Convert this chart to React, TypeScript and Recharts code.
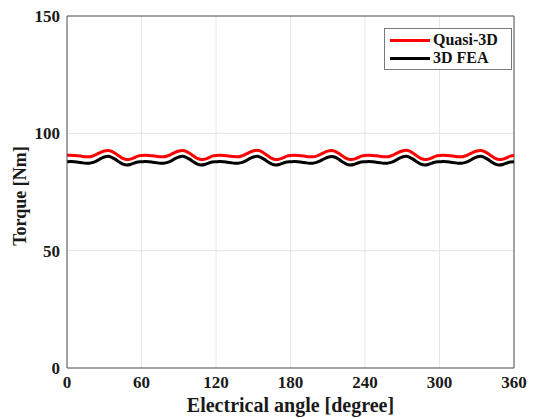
import React from "react";
import {
  LineChart,
  Line,
  XAxis,
  YAxis,
  CartesianGrid,
  ReferenceLine,
} from "recharts";

const angles = [
  0, 3, 6, 9, 12, 15, 18, 21, 24, 27, 30, 33, 36, 39, 42, 45, 48, 51, 54, 57,
  60, 63, 66, 69, 72, 75, 78, 81, 84, 87, 90, 93, 96, 99, 102, 105, 108, 111, 114, 117,
  120, 123, 126, 129, 132, 135, 138, 141, 144, 147, 150, 153, 156, 159, 162, 165, 168, 171, 174, 177,
  180, 183, 186, 189, 192, 195, 198, 201, 204, 207, 210, 213, 216, 219, 222, 225, 228, 231, 234, 237,
  240, 243, 246, 249, 252, 255, 258, 261, 264, 267, 270, 273, 276, 279, 282, 285, 288, 291, 294, 297,
  300, 303, 306, 309, 312, 315, 318, 321, 324, 327, 330, 333, 336, 339, 342, 345, 348, 351, 354, 357,
  360,
];

const quasi3D = [
  90.7, 90.7, 90.6, 90.4, 90.2, 90.0, 90.0, 90.4, 91.1, 91.9, 92.5, 92.7, 92.3, 91.4, 90.3, 89.3, 88.8, 89.0, 89.6, 90.3,
  90.6, 90.7, 90.6, 90.4, 90.2, 90.0, 90.0, 90.4, 91.1, 91.9, 92.5, 92.7, 92.3, 91.4, 90.3, 89.3, 88.8, 89.0, 89.6, 90.3,
  90.6, 90.7, 90.6, 90.4, 90.2, 90.1, 90.0, 90.4, 91.1, 91.9, 92.5, 92.8, 92.4, 91.4, 90.3, 89.3, 88.8, 89.0, 89.6, 90.3,
  90.6, 90.7, 90.6, 90.4, 90.2, 90.0, 90.0, 90.3, 91.0, 91.8, 92.4, 92.7, 92.3, 91.4, 90.3, 89.3, 88.8, 89.0, 89.6, 90.3,
  90.6, 90.7, 90.6, 90.4, 90.2, 90.0, 90.0, 90.4, 91.1, 91.9, 92.5, 92.8, 92.4, 91.4, 90.3, 89.3, 88.8, 89.0, 89.6, 90.3,
  90.6, 90.7, 90.6, 90.4, 90.2, 90.0, 90.0, 90.4, 91.1, 91.9, 92.5, 92.7, 92.3, 91.4, 90.3, 89.3, 88.8, 89.0, 89.6, 90.3,
  90.6,
];

const fea3D = [
  87.9, 88.0, 87.9, 87.7, 87.5, 87.3, 87.3, 87.6, 88.3, 89.2, 89.9, 90.2, 89.8, 88.9, 87.8, 86.9, 86.5, 86.7, 87.3, 87.8,
  87.9, 88.0, 87.9, 87.7, 87.5, 87.3, 87.3, 87.6, 88.3, 89.2, 89.9, 90.2, 89.8, 88.9, 87.8, 86.9, 86.5, 86.7, 87.3, 87.8,
  87.9, 88.0, 87.9, 87.7, 87.5, 87.3, 87.3, 87.6, 88.3, 89.2, 89.9, 90.2, 89.8, 88.9, 87.8, 86.9, 86.5, 86.7, 87.3, 87.8,
  87.9, 88.0, 87.9, 87.7, 87.5, 87.3, 87.3, 87.6, 88.3, 89.1, 89.8, 90.1, 89.8, 88.9, 87.8, 86.9, 86.5, 86.7, 87.3, 87.8,
  87.9, 88.0, 87.9, 87.7, 87.5, 87.3, 87.3, 87.6, 88.3, 89.2, 89.9, 90.2, 89.8, 88.9, 87.8, 86.9, 86.5, 86.7, 87.3, 87.8,
  87.9, 88.0, 87.9, 87.7, 87.5, 87.3, 87.3, 87.6, 88.3, 89.2, 89.9, 90.2, 89.8, 88.9, 87.8, 86.9, 86.5, 86.7, 87.3, 87.8,
  87.9,
];

const xTicks = [0, 60, 120, 180, 240, 300, 360];
const yTicks = [0, 50, 100, 150];

const seriesNames = ["Quasi-3D", "3D FEA"];
const seriesColors = ["#ff0000", "#000000"];

const data = angles.map((a, i) => ({ angle: a, q: quasi3D[i], f: fea3D[i] }));

const FONT = '"Liberation Serif", "Times New Roman", serif';

const LegendBox = () => (
  <div
    style={{
      position: "absolute",
      left: 384,
      top: 28,
      width: 126,
      height: 40,
      border: "1px solid #7a7a7a",
      background: "#fff",
      fontFamily: FONT,
      fontWeight: "bold",
      fontSize: 16,
      color: "#111",
    }}
  >
    {seriesNames.map((n, i) => (
      <div
        key={n}
        style={{ display: "flex", alignItems: "center", height: 18, marginTop: i === 0 ? 2 : 0 }}
      >
        <div style={{ width: 40, height: 3, background: seriesColors[i], marginLeft: 5, marginRight: 3 }} />
        <span style={{ lineHeight: "18px" }}>{n}</span>
      </div>
    ))}
  </div>
);

export default function App() {
  const tickStyle = { fontFamily: FONT, fontWeight: "bold", fontSize: 17, fill: "#1a1a1a" };
  return (
    <div style={{ position: "absolute", left: 0, top: 0, width: 534, height: 419, background: "#fff" }}>
      <LineChart
        width={534}
        height={419}
        data={data}
        margin={{ top: 16, right: 20, left: 0, bottom: 0 }}
      >
        <CartesianGrid stroke="#e6e6e6" strokeWidth={1} />
        <XAxis
          dataKey="angle"
          type="number"
          domain={[0, 360]}
          ticks={xTicks}
          height={51}
          tickLine={false}
          axisLine={{ stroke: "#555" }}
          tick={tickStyle}
          interval={0}
          label={{
            value: "Electrical angle [degree]",
            position: "insideBottom",
            offset: 7,
            style: { fontFamily: FONT, fontWeight: "bold", fontSize: 20, fill: "#1a1a1a" },
          }}
        />
        <YAxis
          type="number"
          domain={[0, 150]}
          ticks={yTicks}
          width={67}
          tickLine={false}
          tickMargin={1}
          axisLine={{ stroke: "#555" }}
          tick={tickStyle}
          interval={0}
          label={{
            value: "Torque [Nm]",
            angle: -90,
            position: "center",
            dx: -13.5,
            dy: 4,
            style: { fontFamily: FONT, fontWeight: "bold", fontSize: 18, fill: "#1a1a1a" },
          }}
        />
        <ReferenceLine y={150} stroke="#555" />
        <ReferenceLine x={360} stroke="#555" />
        <Line
          type="monotone"
          dataKey="q"
          name={seriesNames[0]}
          stroke={seriesColors[0]}
          strokeWidth={3}
          dot={false}
          isAnimationActive={false}
        />
        <Line
          type="monotone"
          dataKey="f"
          name={seriesNames[1]}
          stroke={seriesColors[1]}
          strokeWidth={3}
          dot={false}
          isAnimationActive={false}
        />
      </LineChart>
      <LegendBox />
    </div>
  );
}
